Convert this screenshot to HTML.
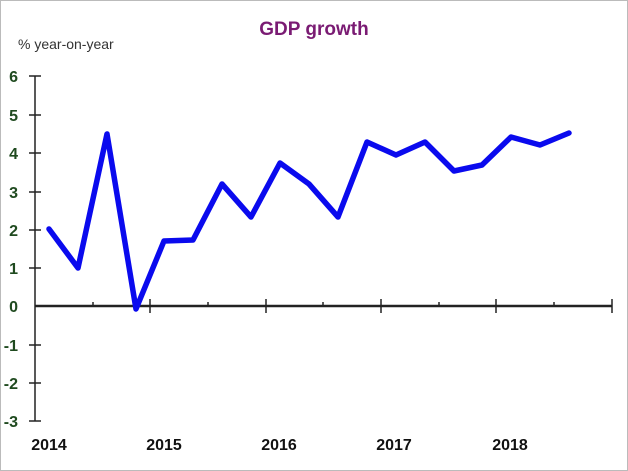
<!DOCTYPE html>
<html><head><style>
body{margin:0;background:#fff;}
svg{display:block;}
text{font-family:"Liberation Sans",Arial,sans-serif;}
</style></head><body>
<svg width="628" height="471" viewBox="0 0 628 471">
<rect x="0.5" y="0.5" width="627" height="470" fill="#fff" stroke="#bbb"/>
<text x="314" y="35" text-anchor="middle" font-size="19" font-weight="bold" fill="#7a1b73">GDP growth</text>
<text x="18" y="49" font-size="14" fill="#333">% year-on-year</text>
<g stroke="#222" stroke-width="1.5">
<line x1="35" y1="76" x2="35" y2="421"/>
<line x1="35" y1="306" x2="612" y2="306" stroke-width="2.5"/>
<line x1="29" y1="76" x2="41" y2="76"/><line x1="29" y1="115" x2="41" y2="115"/>
<line x1="29" y1="153" x2="41" y2="153"/><line x1="29" y1="192" x2="41" y2="192"/>
<line x1="29" y1="230" x2="41" y2="230"/><line x1="29" y1="268" x2="41" y2="268"/>
<line x1="29" y1="345" x2="41" y2="345"/>
<line x1="29" y1="383" x2="41" y2="383"/><line x1="29" y1="421" x2="41" y2="421"/>
<line x1="150" y1="299" x2="150" y2="313"/><line x1="266" y1="299" x2="266" y2="313"/>
<line x1="381" y1="299" x2="381" y2="313"/><line x1="496" y1="299" x2="496" y2="313"/>
<line x1="612" y1="299" x2="612" y2="313"/>
<line x1="93" y1="302" x2="93" y2="306"/><line x1="208" y1="302" x2="208" y2="306"/>
<line x1="323" y1="302" x2="323" y2="306"/><line x1="439" y1="302" x2="439" y2="306"/>
<line x1="554" y1="302" x2="554" y2="306"/>
</g>
<g font-size="16" font-weight="bold" fill="#1f4a1f" text-anchor="end">
<text x="18" y="82">6</text><text x="18" y="121">5</text><text x="18" y="159">4</text>
<text x="18" y="198">3</text><text x="18" y="236">2</text><text x="18" y="274">1</text>
<text x="18" y="312">0</text><text x="18" y="351">-1</text><text x="18" y="389">-2</text>
<text x="18" y="427">-3</text>
</g>
<g font-size="16" font-weight="bold" fill="#111" text-anchor="middle">
<text x="49" y="450">2014</text><text x="164" y="450">2015</text><text x="279" y="450">2016</text>
<text x="394" y="450">2017</text><text x="510" y="450">2018</text>
</g>
<polyline fill="none" stroke="#0a0aee" stroke-width="5.5" stroke-linejoin="round" stroke-linecap="round"
points="49,229 78,268 107,134 136,309 164,241 193,240 222,184 251,217 280,163 309,184 338,217 367,142 396,155 425,142 454,171 482,165 511,137 540,145 569,133"/>
</svg>
</body></html>
